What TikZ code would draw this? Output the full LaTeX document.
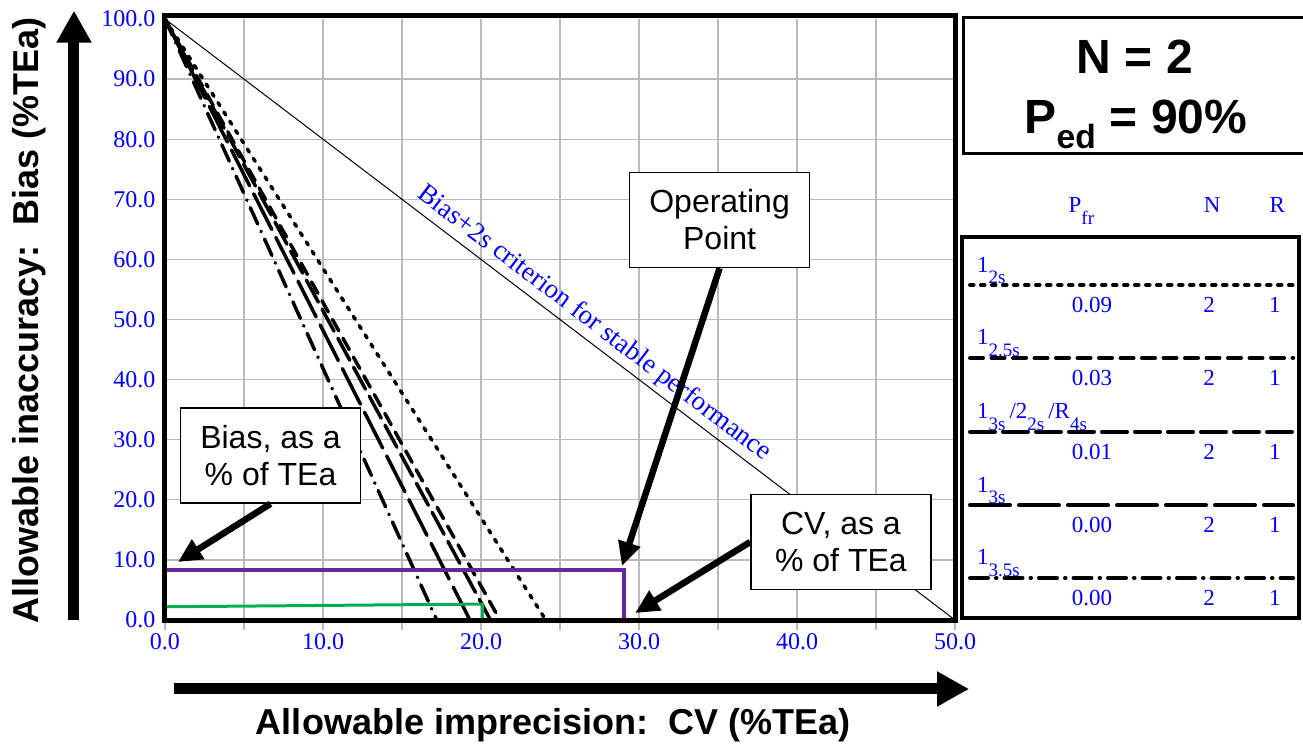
\documentclass[tikz,border=0pt]{standalone}
\usepackage{fontspec}
\setmainfont{Liberation Serif}
\setsansfont{Liberation Sans}
\usetikzlibrary{arrows.meta}
\definecolor{axisblue}{RGB}{0,0,255}
\definecolor{oppurple}{RGB}{102,38,153}
\definecolor{limgreen}{RGB}{0,176,80}
\newcommand\lowsub[1]{\raisebox{-0.5em}{\fontsize{19}{19}\selectfont #1}}

\begin{document}
\begin{tikzpicture}[x=15.8pt,y=6.01pt,
  tick/.style={text=axisblue,font=\fontsize{24}{26}\selectfont,inner sep=0pt},
  legtext/.style={text=axisblue,font=\fontsize{23}{25}\selectfont,inner sep=0pt},
  callout/.style={draw,line width=1.5pt,fill=white,align=center,
    font=\sffamily\fontsize{32}{37}\selectfont,
    minimum width=180pt,minimum height=95pt,inner sep=2pt},
  bigarrow/.style={line width=11pt,-{Triangle[length=32pt,width=33pt]}},
  pointer/.style={line width=6.5pt,-{Triangle[length=24pt,width=22pt]}},
  rule/.style={line width=4pt,black,line cap=round},
  r2s/.style={rule,dash pattern=on 3.5pt off 7.5pt},
  r25s/.style={rule,dash pattern=on 13pt off 8.5pt},
  rmulti/.style={rule,dash pattern=on 25pt off 8pt},
  r3s/.style={rule,dash pattern=on 40pt off 9pt},
  r35s/.style={rule,dash pattern=on 18pt off 8pt on 0.5pt off 8pt}]

\useasboundingbox[fill=white] (-10.443,-21.464) rectangle (72.025,103.161);

% grid and ticks
\foreach \x in {5,10,...,45} \draw[gray!55,line width=1.3pt] (\x,0)--(\x,100);
\foreach \y in {10,20,...,90} \draw[gray!55,line width=1.3pt] (0,\y)--(50,\y);
\foreach \x in {0,5,...,50} \draw[gray!55,line width=1.3pt] (\x,0)--(\x,-1.6);

\foreach \y in {0,10,...,100}
  \node[tick,anchor=east] (yt\y) at (-0.6,\y) {\y.0};
\foreach \x in {0,10,...,50}
  \node[tick] (xt\x) at (\x,-3.6) {\x.0};

% stable performance criterion
\draw[line width=1pt] (0,100)--(50,0);
\node[rotate=-37.27,text=axisblue,font=\fontsize{27}{27}\selectfont] (critlabel)
  at (27.15,49.3) {Bias+2s criterion for stable performance};

% power function lines of the rules
\draw[r2s,line width=3.5pt] (0,100)--(24.1,0);
\draw[r25s,line width=3.5pt] (0,100)--(21.2,0);
\draw[rmulti,line width=3.5pt] (0,100)--(20.6,0);
\draw[r3s,line width=3.5pt] (0,100)--(19.3,0);
\draw[r35s,line width=3.5pt] (0,100)--(17.2,0);

\draw[limgreen,line width=3pt] (0,2.2)--(20.1,2.65)--(20.1,0);
\draw[oppurple,line width=4pt] (0,8.32)--(29.05,8.32)--(29.05,0);

\draw[line width=5pt] (0,0) rectangle (50,100.5);

% callouts
\node[callout] (opbox) at (35.1,66.56) {Operating\\Point};
\node[callout] (biasbox) at (6.68,27.37) {Bias, as a\\\% of TEa};
\node[callout] (cvbox) at (42.78,12.98) {CV, as a\\\% of TEa};
\coordinate (opTip) at (28.92,8.99);
\coordinate (biasTip) at (0.82,9.65);
\coordinate (cvTip) at (29.75,1.16);
\draw[pointer] (opbox.south)--(opTip);
\draw[pointer] (biasbox.south)--(biasTip);
\draw[pointer] (cvbox.west)--(cvTip);

% axes
\draw[bigarrow] (-5.76,0)--(-5.76,101.4);
\draw[bigarrow] (0.57,-11.48)--(50.89,-11.48);
\node[rotate=90,anchor=base,font=\sffamily\bfseries\fontsize{36}{36}\selectfont]
  (ylab) at (-8.0,49.9) {Allowable inaccuracy:\ \ Bias (\%TEa)};
\node[anchor=base,font=\sffamily\bfseries\fontsize{36}{36}\selectfont]
  (xlab) at (24.56,-19.13) {Allowable imprecision:\ \ CV (\%TEa)};

% N and Ped
\draw[line width=3pt] (50.54,77.7) rectangle (72.6,100.2);
\node[anchor=base,font=\sffamily\bfseries\fontsize{48}{48}\selectfont]
  (nval) at (61.39,91.0) {N = 2};
\node[anchor=base,font=\sffamily\bfseries\fontsize{48}{48}\selectfont]
  (pedval) at (61.45,81.03) {P\textsubscript{ed} = 90\%};

% legend
\node[legtext,anchor=base] (hpfr) at (58.0,67.72) {P\lowsub{fr}};
\node[legtext,anchor=base] (hn) at (66.27,67.72) {N};
\node[legtext,anchor=base] (hr) at (70.4,67.72) {R};
\draw[line width=4pt] (50.44,0.33) rectangle (71.8,63.8);

\draw[r2s] (50.95,55.74)--(71.4,55.74);
\node[legtext,anchor=base west] (lab1) at (51.39,57.9) {1\lowsub{2s}};
\node[legtext] (pfr1) at (58.67,52.4) {0.09};
\node[legtext] (n1) at (66.08,52.4) {2};
\node[legtext] (r1) at (70.25,52.4) {1};

\draw[r25s] (50.95,43.6)--(71.4,43.6);
\node[legtext,anchor=base west] (lab2) at (51.39,45.76) {1\lowsub{2.5s}};
\node[legtext] (pfr2) at (58.67,40.3) {0.03};
\node[legtext] (n2) at (66.08,40.3) {2};
\node[legtext] (r2) at (70.25,40.3) {1};

\draw[rmulti] (50.95,31.3)--(71.4,31.3);
\node[legtext,anchor=base west] (lab3) at (51.39,33.46)
  {1\lowsub{3s}\hspace{4pt}/2\lowsub{2s}\hspace{4pt}/R\lowsub{4s}};
\node[legtext] (pfr3) at (58.67,28.0) {0.01};
\node[legtext] (n3) at (66.08,28.0) {2};
\node[legtext] (r3) at (70.25,28.0) {1};

\draw[r3s] (50.95,19.1)--(71.4,19.1);
\node[legtext,anchor=base west] (lab4) at (51.39,21.26) {1\lowsub{3s}};
\node[legtext] (pfr4) at (58.67,15.8) {0.00};
\node[legtext] (n4) at (66.08,15.8) {2};
\node[legtext] (r4) at (70.25,15.8) {1};

\draw[r35s] (50.95,7.0)--(71.4,7.0);
\node[legtext,anchor=base west] (lab5) at (51.39,9.16) {1\lowsub{3.5s}};
\node[legtext] (pfr5) at (58.67,3.7) {0.00};
\node[legtext] (n5) at (66.08,3.7) {2};
\node[legtext] (r5) at (70.25,3.7) {1};

\end{tikzpicture}
\end{document}
